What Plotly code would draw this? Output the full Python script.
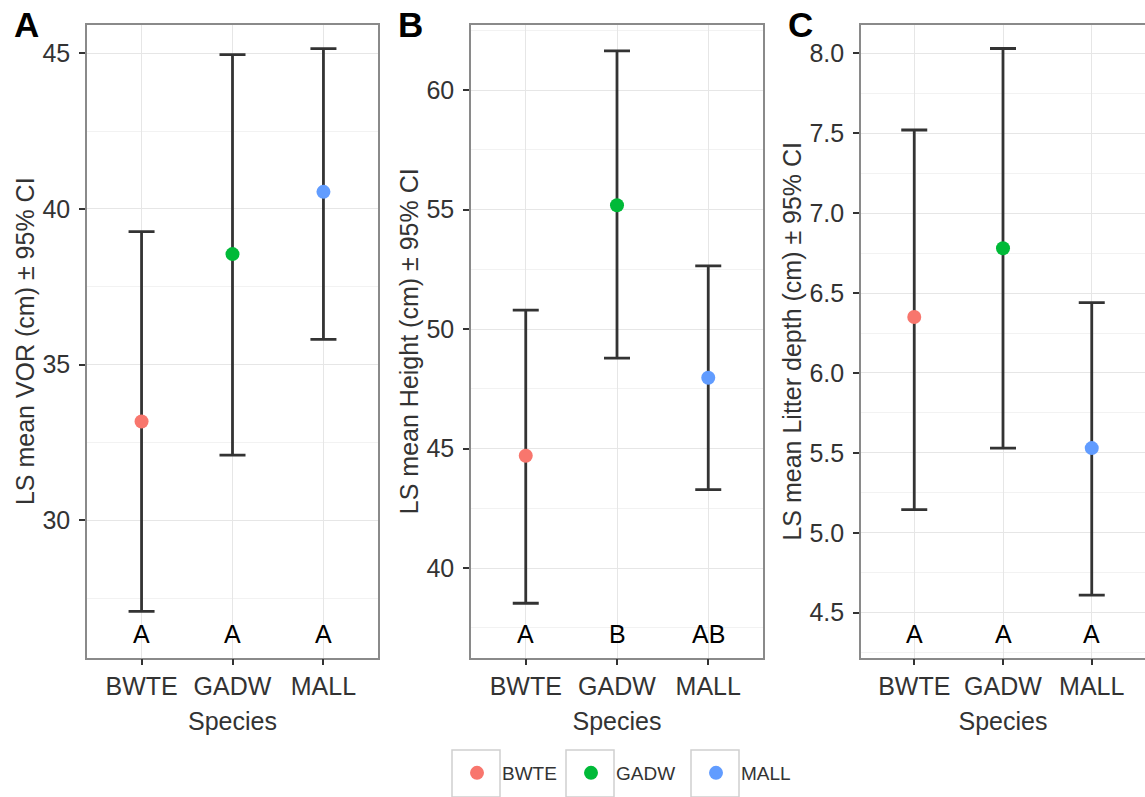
import plotly.graph_objects as go

# Species and least-squares means with 95% confidence limits
species = ["BWTE", "GADW", "MALL"]
colors = ["#F8766D", "#00BA38", "#619CFF"]

vor_mean = [33.17, 38.55, 40.55]
vor_lo = [27.07, 32.09, 35.81]
vor_hi = [39.27, 44.96, 45.15]
vor_groups = ["A", "A", "A"]

height_mean = [44.70, 55.18, 47.96]
height_lo = [38.53, 48.78, 43.28]
height_hi = [50.79, 61.64, 52.64]
height_groups = ["A", "B", "AB"]

litter_mean = [6.35, 6.78, 5.53]
litter_lo = [5.145, 5.53, 4.61]
litter_hi = [7.52, 8.03, 6.44]
litter_groups = ["A", "A", "A"]

panels = [
    dict(tag="A", mean=vor_mean, lo=vor_lo, hi=vor_hi, groups=vor_groups,
         ytitle="LS mean VOR (cm) ± 95% CI", yrange=[25.59, 45.91], dtick=5,
         fmt="", xdom=[87, 378]),
    dict(tag="B", mean=height_mean, lo=height_lo, hi=height_hi, groups=height_groups,
         ytitle="LS mean Height (cm) ± 95% CI", yrange=[36.26, 62.72], dtick=5,
         fmt="", xdom=[471, 763]),
    dict(tag="C", mean=litter_mean, lo=litter_lo, hi=litter_hi, groups=litter_groups,
         ytitle="LS mean Litter depth (cm) ± 95% CI", yrange=[4.22, 8.177], dtick=0.5,
         fmt=".1f", xdom=[861, 1145]),
]

W, H = 1145, 797
FONT = "Liberation Sans, Arial, sans-serif"
TOP_PX, BOTTOM_PX = 25, 657.5
ydom = [1 - BOTTOM_PX / H, 1 - TOP_PX / H]

# one legend per species so each key sits in its own box
legend_names = ["legend", "legend2", "legend3"]
key_centers = [476, 590, 715]

fig = go.Figure()
annotations = []

for i, p in enumerate(panels):
    n = "" if i == 0 else str(i + 1)
    xa, ya = "x" + n, "y" + n
    plus = [h - m for h, m in zip(p["hi"], p["mean"])]
    minus = [m - l for m, l in zip(p["mean"], p["lo"])]

    # confidence interval bars
    fig.add_trace(go.Scatter(
        x=species, y=p["mean"], mode="markers", xaxis=xa, yaxis=ya,
        marker=dict(size=1, color="rgba(0,0,0,0)"),
        error_y=dict(type="data", symmetric=False, array=plus, arrayminus=minus,
                     color="#333333", thickness=2.8, width=13),
        showlegend=False, hoverinfo="skip"))

    # species means
    for s, m, c, lg in zip(species, p["mean"], colors, legend_names):
        fig.add_trace(go.Scatter(
            x=[s], y=[m], mode="markers", xaxis=xa, yaxis=ya, name=s,
            legendgroup=s, showlegend=(i == 0), legend=lg,
            marker=dict(size=14, color=c, line=dict(width=0))))

    # group letters along the bottom of each panel
    for s, g in zip(species, p["groups"]):
        annotations.append(dict(
            x=s, y=0.037, xref=xa, yref=ya + " domain", text=g, showarrow=False,
            font=dict(size=25, color="#000000", family=FONT),
            xanchor="center", yanchor="middle"))

    # panel tag
    annotations.append(dict(
        x=(p["xdom"][0] - 75) / W, y=1 - 3 / H, xref="paper", yref="paper",
        text="<b>%s</b>" % p["tag"], showarrow=False, xanchor="left", yanchor="top",
        font=dict(size=35, color="#000000", family=FONT)))

    axis_common = dict(
        showline=True, mirror=True, linecolor="#8a8a8a", linewidth=1.6,
        ticks="outside", ticklen=6, tickwidth=1.5, tickcolor="#333333",
        tickfont=dict(size=25, color="#333333", family=FONT),
        gridcolor="#e6e6e6", gridwidth=1.4, zeroline=False, automargin=False)

    fig.update_layout(**{
        "xaxis" + n: dict(
            axis_common, type="category", categoryarray=species,
            range=[-0.6, 2.6], domain=[p["xdom"][0] / W, min(p["xdom"][1] / W, 1.0)],
            anchor=ya, showgrid=True,
            title=dict(text="Species", standoff=13,
                       font=dict(size=25, color="#333333", family=FONT))),
        "yaxis" + n: dict(
            axis_common, range=p["yrange"], dtick=p["dtick"], tickformat=p["fmt"],
            domain=ydom, anchor=xa, showgrid=True, ticklabelstandoff=4,
            minor=dict(dtick=p["dtick"] / 2, showgrid=True, gridcolor="#f2f2f2",
                       gridwidth=1, ticks=""),
            title=dict(text=p["ytitle"], standoff=1,
                       font=dict(size=25, color="#333333", family=FONT))),
    })

# key boxes around legend symbols
for cx in key_centers:
    fig.add_shape(type="rect", xref="paper", yref="paper",
                  x0=(cx - 24) / W, x1=(cx + 24) / W,
                  y0=1 - 797 / H, y1=1 - 750 / H,
                  line=dict(color="#d0d0d0", width=1.5), fillcolor="rgba(0,0,0,0)")

legend_style = dict(orientation="h", xanchor="left", yanchor="middle",
                    y=1 - 773 / H, itemwidth=40, bgcolor="rgba(0,0,0,0)",
                    font=dict(size=19, color="#333333", family=FONT))

fig.update_layout(
    width=W, height=H, margin=dict(l=0, r=0, t=0, b=0),
    paper_bgcolor="white", plot_bgcolor="white",
    font=dict(family=FONT, color="#333333"),
    annotations=annotations,
    **{lg: dict(legend_style, x=(cx - 24) / W)
       for lg, cx in zip(legend_names, key_centers)},
)

fig.write_html("out.html")
